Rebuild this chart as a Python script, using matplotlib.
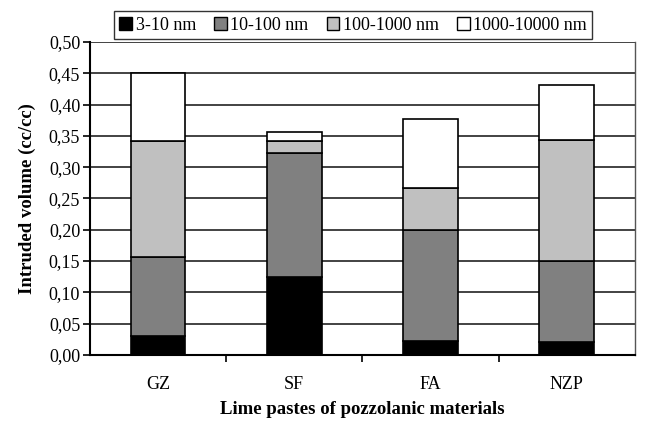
import matplotlib.pyplot as plt
from matplotlib.ticker import FuncFormatter, MultipleLocator
import numpy as np

# pore size classes, volume per class (cc/cc)
materials = ["GZ", "SF", "FA", "NZP"]
classes = ["3-10 nm", "10-100 nm", "100-1000 nm", "1000-10000 nm"]
vol_3_10 = [0.030, 0.124, 0.022, 0.020]
vol_10_100 = [0.126, 0.198, 0.178, 0.130]
vol_100_1000 = [0.186, 0.020, 0.067, 0.193]
vol_1000_10000 = [0.109, 0.014, 0.110, 0.089]

colors = ["#000000", "#808080", "#c0c0c0", "#ffffff"]

plt.rcParams['font.family'] = ['Liberation Serif', 'DejaVu Serif']

fig = plt.figure(figsize=(6.64, 4.24), dpi=100)
ax = fig.add_axes([0.1355, 0.163, 0.8205, 0.738])

x = np.arange(len(materials))
bottom = np.zeros(len(materials))
handles = []
for vals, col, lab in zip([vol_3_10, vol_10_100, vol_100_1000, vol_1000_10000], colors, classes):
    b = ax.bar(x, vals, width=0.40, bottom=bottom, color=col, edgecolor="black",
               linewidth=1.2, label=lab, zorder=3)
    bottom += np.array(vals)
    handles.append(b)

ax.set_xlim(-0.5, len(materials) - 0.5)
ax.set_ylim(0, 0.5)
ax.yaxis.set_major_locator(MultipleLocator(0.05))
ax.yaxis.set_major_formatter(FuncFormatter(lambda v, p: f"{v:.2f}".replace(".", ",")))
ax.grid(axis="y", color="#222222", linewidth=1.2, zorder=0)

ax.set_xticks(x)
ax.set_xticklabels(materials, fontsize=13)
ax.set_xticks(np.arange(0.5, len(materials) - 0.5, 1), minor=True)
ax.tick_params(axis="x", which="major", length=0, pad=15)
ax.tick_params(axis="x", which="minor", length=5, width=1.2, direction="out")
ax.tick_params(axis="y", labelsize=13, length=5, width=1.2, direction="out", pad=2)

for side in ["left", "bottom"]:
    ax.spines[side].set_linewidth(1.5)
ax.spines["top"].set_visible(False)
ax.spines["right"].set_color("#555555")
ax.spines["right"].set_linewidth(1.0)

ax.set_ylabel("Intruded volume (cc/cc)", fontsize=13.5, fontweight="bold", labelpad=9)
ax.set_xlabel("Lime pastes of pozzolanic materials", fontsize=13.5, fontweight="bold", labelpad=6)

leg = fig.legend(handles=handles, loc="upper center", bbox_to_anchor=(0.532, 0.995),
                 ncol=4, frameon=True, fancybox=False, fontsize=13,
                 handlelength=0.7, handleheight=0.7, handletextpad=0.2,
                 columnspacing=1.0, borderpad=0.3)
leg.get_frame().set_edgecolor("black")
leg.get_frame().set_linewidth(1.0)
for h in leg.legend_handles:
    h.set_linewidth(1.0)

fig.savefig("out.png", dpi=100)
